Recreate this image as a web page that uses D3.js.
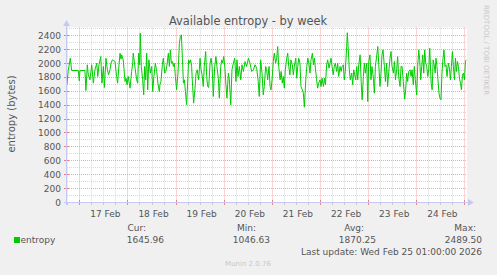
<!DOCTYPE html>
<html lang="en">
<head>
<meta charset="UTF-8">
<title>Available entropy - by week</title>
<script src="https://d3js.org/d3.v7.min.js"></script>
<style>
  body { margin: 0; background: #f0f0f0; }
  svg { display: block; font-family: "DejaVu Sans", sans-serif; }
  .lbl { fill: #555; font-size: 9px; }
</style>
</head>
<body>
<script>
// hours after 17 Feb 00:00 (UTC) and the 30-min average entropy
const hours = [
  -6.2,-5.5,-4.5,-3.8,-0.5,0.0,0.3,2.8,3.3,4.0,4.5,5.3,6.2,7.0,7.8,8.7,9.2,9.8,10.7,11.3,
  12.0,12.5,13.3,14.0,14.6,15.3,15.8,16.5,17.0,17.8,18.6,19.1,19.8,20.3,20.8,21.1,21.9,22.3,22.8,23.3,
  23.8,24.4,24.9,25.3,26.1,26.6,26.9,27.8,28.6,29.1,29.6,30.1,30.4,30.9,31.6,32.1,32.6,33.1,33.6,34.1,
  34.7,35.4,36.1,36.6,37.2,37.9,38.6,39.2,39.9,40.2,40.7,41.4,41.9,42.6,43.1,43.6,44.4,44.9,45.4,45.9,
  46.4,46.9,47.4,47.9,48.5,49.2,49.9,50.4,50.9,51.4,51.9,52.4,52.9,53.5,54.0,54.5,55.0,55.5,56.0,56.5,
  57.0,57.7,58.2,58.8,59.5,60.2,60.7,61.2,61.8,62.3,63.0,63.5,64.0,64.5,65.2,65.7,66.2,66.8,67.5,68.1,
  68.6,69.3,69.8,70.5,71.0,71.5,72.0,72.6,73.1,73.6,74.3,74.8,75.5,76.1,76.8,77.5,78.1,78.6,79.1,79.8,
  80.5,81.1,81.8,82.6,83.4,84.3,85.1,85.9,86.8,87.6,88.4,89.2,89.7,90.4,91.1,91.7,92.2,92.9,93.4,93.9,
  94.6,95.1,95.6,96.1,96.7,97.2,97.9,98.4,98.9,99.4,100.1,100.6,101.2,101.7,102.2,102.7,103.4,103.9,104.4,105.0,
  105.5,106.2,106.7,107.2,107.9,108.4,108.9,109.4,110.0,110.5,111.2,111.7,112.2,112.9,113.4,113.9,114.4,115.0,115.5,116.2,
  116.7,117.2,117.7,118.3,118.8,119.3,120.0,120.5,121.0,121.7,122.2,122.7,123.3,123.8,124.5,125.0,125.5,126.0,126.6,127.1,
  127.6,128.3,128.8,129.3,130.0,130.5,131.0,131.6,132.1,132.6,133.3,133.6,134.1,134.6,135.1,135.8,136.3,136.8,137.3,137.8,
  138.3,138.8,139.3,140.0,140.5,141.0,141.6,142.1,142.6,143.3,143.8,144.3,144.9,145.4,145.9,146.6,147.1,147.6,148.3,148.8,
  149.3,149.9,150.4,150.9,151.4,152.1,152.6,153.2,153.7,154.2,154.9,155.4,155.9,156.6,157.1,157.6,158.2,158.7,159.2,159.9,
  160.4,160.9,161.5,162.2,162.7,163.2,163.7,164.2,164.9,165.4,165.9,166.5,167.0,167.5,168.2,168.7,169.2,169.7,170.2,170.7,
  171.2,171.7,172.2,172.7,173.2,173.7,174.2,174.7,175.4,175.9,176.4,176.9,177.4,177.8,178.3,178.8,179.3,179.8,180.3,180.8,
  181.3,181.8,182.3,182.8,183.3,184.0,184.5,185.0,185.5,186.0,186.5,187.0,187.5,188.0,188.5,189.0,189.5,190.0,190.5,191.0,
  191.5,192.0,192.5,192.8
];
const entropy = [
  1691,1897,2074,1897,1897,1749,1897,1897,1610,1979,1835,1763,1979,1715,1907,2002,1811,1979,2098,1715,
  1955,1653,2074,1907,1835,1907,2002,2050,2041,2026,1811,1715,1979,2146,2060,2122,2050,1916,1739,1787,
  1691,1811,1715,1643,1883,2002,2146,1931,1763,1715,2146,1979,2433,1955,1763,1547,1955,1763,2146,1619,
  2050,1859,1955,1595,1811,2002,1883,1715,1595,1691,1739,1979,2074,1859,1883,1955,2146,1955,2194,2002,
  2026,1955,2002,1811,1619,1859,2290,2386,2410,2074,1715,1763,1595,1404,1715,2050,2002,2050,1955,1667,
  1428,1643,1859,1907,1763,2074,1907,1835,1667,1955,2170,1811,1667,1653,2002,2074,1955,1524,1955,2098,
  1955,1787,1500,1955,2050,2002,2098,1931,1691,1500,1859,1763,1404,1907,2002,2074,1739,2050,1811,1955,
  1763,1979,1883,2026,1955,2074,2002,1883,1907,1979,1931,1739,1524,2050,1859,1547,1667,1955,1907,1763,
  1955,1667,1619,1763,2026,2146,2002,2074,2242,1955,1763,1883,1715,1811,1643,1907,2074,2146,1955,1835,
  2050,1979,1835,1955,2074,1787,1955,2074,2002,1667,1619,1571,1370,1763,1955,2074,2002,1859,2050,2146,
  1979,2074,1931,1763,1643,1715,1763,1667,1787,1667,1787,1691,1979,2050,1931,2002,2074,1955,1835,1955,
  2002,1883,2002,1811,1955,1883,1955,1979,1763,1883,2242,2440,2194,1907,1763,1859,1691,1907,1835,1763,
  1955,1763,1979,2122,1739,1476,1811,2002,1859,2002,1452,2026,2122,1763,1955,1787,1571,1955,2122,2242,
  1979,1667,1859,2122,2194,1955,1739,2002,1667,1859,2074,2170,1955,1859,2026,1763,1907,2098,1811,1667,
  1955,1955,1739,1485,1619,1859,1739,1883,1907,1811,1907,1691,1955,1763,1547,1955,2194,2050,1763,1955,
  2122,1859,2194,2002,1955,1811,1907,2218,1715,1619,2050,1979,1859,2074,1955,1763,1571,1500,1476,1859,
  2074,2194,1955,1979,1811,2002,1931,1763,1955,2170,1955,1763,2074,1883,2026,1955,1787,1715,1619,1835,
  1859,1763,2026,2050
];
const yTicks = [0, 200, 400, 600, 800, 1000, 1200, 1400, 1600, 1800, 2000, 2200, 2400];
const dayLabels = ["17 Feb", "18 Feb", "19 Feb", "20 Feb", "21 Feb", "22 Feb", "23 Feb", "24 Feb"];
const statNames = ["Cur:", "Min:", "Avg:", "Max:"];
const statValues = ["1645.96", "1046.63", "1870.25", "2489.50"];

const W = 497, H = 275;
const t0 = Date.UTC(2026, 1, 17);
const hr = 3600e3;

const svg = d3.select("body").append("svg").attr("width", W).attr("height", H);
svg.append("rect").attr("width", W).attr("height", H).attr("fill", "#f0f0f0");

const x = d3.scaleUtc()
  .domain([new Date(t0 - 6.13 * hr), new Date(t0 + 193.27 * hr)])
  .range([67, 467]);
const y = d3.scaleLinear().domain([0, 2515]).range([202.5, 27.5]);
const sx = d => Math.round(x(d)) + 0.5;
const sy = v => Math.round(y(v) - 0.5) + 0.5;

// canvas
svg.append("rect").attr("x", 67).attr("y", 27.5).attr("width", 400).attr("height", 175).attr("fill", "#fff");

const grid = svg.append("g").attr("fill", "none").attr("stroke-dasharray", "1,1");

// minor grid
const minorY = d3.range(100, 2600, 200);
grid.selectAll(".hmin").data(minorY).join("line")
  .attr("x1", 67).attr("x2", 467).attr("y1", sy).attr("y2", sy)
  .attr("stroke", "#d8d8d8");
const sixHours = x.ticks(d3.utcHour.every(6)).filter(d => d.getUTCHours() !== 0);
grid.selectAll(".vmin").data(sixHours).join("line")
  .attr("x1", sx).attr("x2", sx).attr("y1", 27.5).attr("y2", 202.5)
  .attr("stroke", "#d8d8d8");

// major grid
grid.selectAll(".hmaj").data(yTicks.filter(v => v > 0)).join("line")
  .attr("x1", 67).attr("x2", 467).attr("y1", sy).attr("y2", sy)
  .attr("stroke", "#f0a8a8");
const midnights = x.ticks(d3.utcDay.every(1));
grid.selectAll(".vmaj").data(midnights).join("line")
  .attr("x1", sx).attr("x2", sx).attr("y1", 27.5).attr("y2", 202.5)
  .attr("stroke", "#f0a8a8");

// axis ticks
svg.selectAll(".xt").data(sixHours).join("line")
  .attr("x1", sx).attr("x2", sx).attr("y1", 202).attr("y2", 205).attr("stroke", "#c8c8c8");
svg.selectAll(".xT").data(midnights).join("line")
  .attr("x1", sx).attr("x2", sx).attr("y1", 200).attr("y2", 205).attr("stroke", "#f08080");
svg.selectAll(".yt").data(yTicks).join("line")
  .attr("x1", 64).attr("x2", 69).attr("y1", sy).attr("y2", sy).attr("stroke", "#f08080");

// data line
const pts = hours.map((h, i) => ({ t: new Date(t0 + h * hr), v: entropy[i] }));
svg.append("path").datum(pts)
  .attr("fill", "none").attr("stroke", "#00cc00").attr("stroke-width", 1)
  .attr("stroke-linejoin", "round")
  .attr("d", d3.line().x(d => x(d.t)).y(d => y(d.v)));

// axes with arrows
const axisCol = "#c8c8f4";
svg.append("line").attr("x1", 64).attr("x2", 470).attr("y1", 202.5).attr("y2", 202.5).attr("stroke", axisCol);
svg.append("line").attr("x1", 66.5).attr("x2", 66.5).attr("y1", 205).attr("y2", 24).attr("stroke", axisCol);
svg.append("path").attr("d", "M474,202.5 L468,199 L468,206 Z").attr("fill", axisCol);
svg.append("path").attr("d", "M66.5,20 L63,26 L70,26 Z").attr("fill", axisCol);

// y labels
svg.selectAll(".yl").data(yTicks).join("text").attr("class", "lbl")
  .attr("x", 61).attr("y", d => y(d)).attr("dy", "0.36em")
  .attr("text-anchor", "end").attr("font-size", "9.2px").text(d => d);

// x labels at noon
svg.selectAll(".xl").data(dayLabels).join("text").attr("class", "lbl")
  .attr("x", (d, i) => x(new Date(t0 + (i * 24 + 12) * hr)) + 2)
  .attr("y", 216.5).attr("text-anchor", "middle").text(d => d);

// title
svg.append("text").attr("x", 248).attr("y", 25).attr("text-anchor", "middle")
  .attr("fill", "#555").attr("font-size", "11.4px").text("Available entropy - by week");

// y title
svg.append("text").attr("transform", "translate(14.5,114) rotate(-90)")
  .attr("text-anchor", "middle").attr("fill", "#555").attr("font-size", "10px")
  .text("entropy (bytes)");

// watermark
svg.append("text").attr("transform", "translate(484,5) rotate(90)")
  .attr("fill", "#c8c8c8").attr("font-size", "7px").text("RRDTOOL / TOBI OETIKER");

// legend
svg.append("rect").attr("x", 14).attr("y", 237).attr("width", 6).attr("height", 6).attr("fill", "#00cc00");
svg.append("text").attr("class", "lbl").attr("x", 20.5).attr("y", 242.7).text("entropy");
const nameRight = [146, 256, 364, 476];
const valRight = [164, 270, 376, 482];
svg.selectAll(".sn").data(statNames).join("text").attr("class", "lbl")
  .attr("x", (d, i) => nameRight[i]).attr("y", 230.7).attr("text-anchor", "end").text(d => d);
svg.selectAll(".sv").data(statValues).join("text").attr("class", "lbl")
  .attr("x", (d, i) => valRight[i]).attr("y", 242.7).attr("text-anchor", "end").text(d => d);
svg.append("text").attr("class", "lbl").attr("x", 482).attr("y", 255)
  .attr("text-anchor", "end").text("Last update: Wed Feb 25 01:00:00 2026");
svg.append("text").attr("x", 248).attr("y", 265.5).attr("text-anchor", "middle")
  .attr("fill", "#c8c8c8").attr("font-size", "7px").text("Munin 2.0.76");
</script>
</body>
</html>
